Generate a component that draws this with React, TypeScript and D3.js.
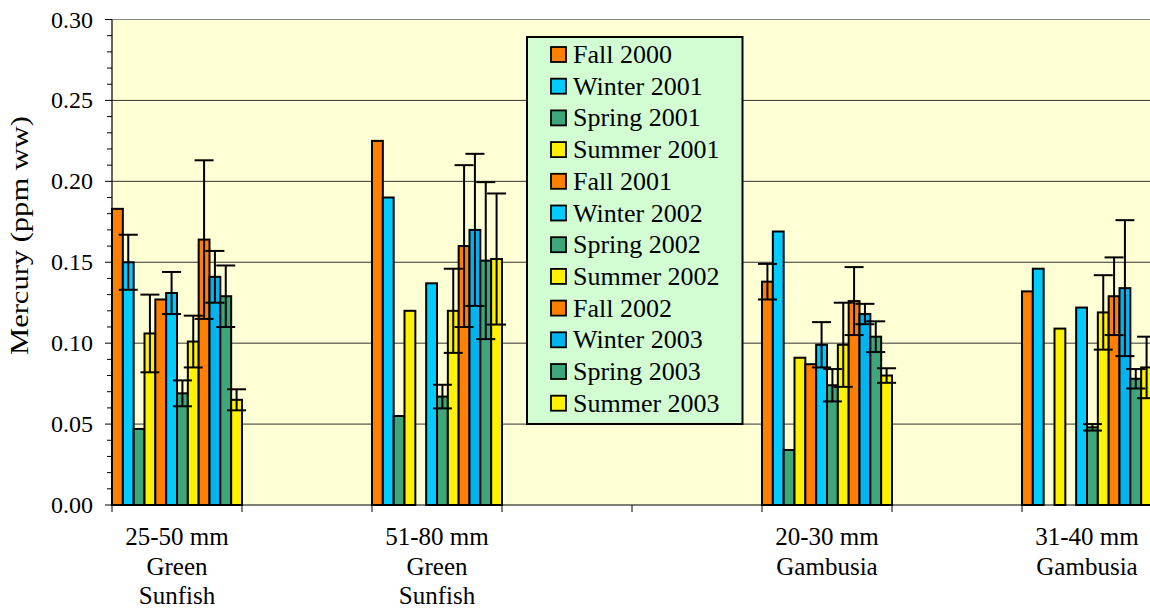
import React from "react";
import * as d3 from "d3";

// x slots (the chart has empty category slots between the groups)
const slotIds = ["s0", "s1", "s2", "s3", "s4", "s5", "s6", "s7"];
const categorySlots = ["s0", "s2", "s5", "s7"];
const categoryLabels = [
  ["25-50 mm", "Green", "Sunfish"],
  ["51-80 mm", "Green", "Sunfish"],
  ["20-30 mm", "Gambusia"],
  ["31-40 mm", "Gambusia"],
];

const seriesNames = [
  "Fall 2000", "Winter 2001", "Spring 2001", "Summer 2001",
  "Fall 2001", "Winter 2002", "Spring 2002", "Summer 2002",
  "Fall 2002", "Winter 2003", "Spring 2003", "Summer 2003",
];
const seriesColors = [
  "#FF8000", "#00CCFF", "#3FA67B", "#FFF200",
  "#FF8000", "#00CCFF", "#3FA67B", "#FFF200",
  "#FF8000", "#00B4F0", "#3FA67B", "#FFF200",
];

// values per series, for categories [25-50 GS, 51-80 GS, 20-30 Gamb, 31-40 Gamb]
const fall2000 = [0.183, 0.225, 0.138, 0.132];
const winter2001 = [0.150, 0.190, 0.169, 0.146];
const spring2001 = [0.047, 0.055, 0.034, null];
const summer2001 = [0.106, 0.120, 0.091, 0.109];
const fall2001 = [0.127, null, 0.087, null];
const winter2002 = [0.131, 0.137, 0.099, 0.122];
const spring2002 = [0.069, 0.067, 0.074, 0.048];
const summer2002 = [0.101, 0.120, 0.099, 0.119];
const fall2002 = [0.164, 0.160, 0.126, 0.129];
const winter2003 = [0.141, 0.170, 0.118, 0.134];
const spring2003 = [0.129, 0.151, 0.104, 0.078];
const summer2003 = [0.065, 0.152, 0.080, 0.085];

// error bar half-lengths (null = no error bar)
const errFall2000 = [null, null, 0.011, null];
const errWinter2001 = [0.017, null, null, null];
const errSpring2001 = [null, null, null, null];
const errSummer2001 = [0.024, null, null, null];
const errFall2001 = [null, null, null, null];
const errWinter2002 = [0.013, null, 0.014, null];
const errSpring2002 = [0.008, 0.0073, 0.010, 0.002];
const errSummer2002 = [0.016, 0.026, 0.026, 0.023];
const errFall2002 = [0.049, 0.050, 0.021, 0.024];
const errWinter2003 = [0.016, 0.047, 0.0063, 0.042];
const errSpring2003 = [0.019, 0.0485, 0.0095, 0.006];
const errSummer2003 = [0.0065, 0.0405, 0.0045, 0.019];

const yTicks = [0, 0.05, 0.1, 0.15, 0.2, 0.25, 0.3];

const seriesValues = [
  fall2000, winter2001, spring2001, summer2001, fall2001, winter2002,
  spring2002, summer2002, fall2002, winter2003, spring2003, summer2003,
];
const seriesErrors = [
  errFall2000, errWinter2001, errSpring2001, errSummer2001, errFall2001, errWinter2002,
  errSpring2002, errSummer2002, errFall2002, errWinter2003, errSpring2003, errSummer2003,
];

const W = 1150;
const H = 608;
const left = 112;
const right = 1152;
const top = 19.5;
const bottom = 505;
const serif = { fontFamily: "'Liberation Serif', 'Times New Roman', Times, serif" };

export default function App() {
  const x = d3.scaleBand().domain(slotIds).range([left, right]).padding(0);
  const xi = d3.scaleBand().domain(seriesNames).range([0, x.bandwidth()]).padding(0);
  const y = d3.scaleLinear().domain([0, 0.3]).range([bottom, top]);
  const minorTicks = d3.range(0, 31).map((i) => i / 100);
  const bw = xi.bandwidth();

  const bars: any[] = [];
  const errs: any[] = [];
  seriesNames.forEach((s, si) => {
    categorySlots.forEach((slot, ci) => {
      const v = seriesValues[si][ci];
      if (v == null) return;
      const bx = (x(slot) as number) + (xi(s) as number);
      bars.push(
        <rect key={`b-${si}-${ci}`} x={bx} y={y(v)} width={bw} height={y(0) - y(v)}
          fill={seriesColors[si]} stroke="#000" strokeWidth={2} />
      );
      const e = seriesErrors[si][ci];
      if (e != null) {
        const cx = bx + bw / 2;
        const y1 = y(v + e);
        const y2 = y(v - e);
        errs.push(
          <g key={`e-${si}-${ci}`} stroke="#000" strokeWidth={2}>
            <line x1={cx} x2={cx} y1={y1} y2={y2} />
            <line x1={cx - 9.5} x2={cx + 9.5} y1={y1} y2={y1} />
            <line x1={cx - 9.5} x2={cx + 9.5} y1={y2} y2={y2} />
          </g>
        );
      }
    });
  });

  const legendX = 527;
  const legendY = 37;
  const rowH = 31.7;

  return (
    <svg width={W} height={H} style={{ position: "absolute", left: 0, top: 0, background: "#fff" }}>
      <rect x={left} y={top} width={right - left} height={bottom - top} fill="#FFFFD6" />
      {yTicks.slice(1).map((t) => (
        <line key={`g-${t}`} x1={left} x2={right} y1={y(t)} y2={y(t)}
          stroke={t === 0.3 ? "#888" : "#333"} strokeWidth={1} />
      ))}
      {bars}
      {errs}
      {/* y axis */}
      <line x1={left} x2={left} y1={top} y2={bottom} stroke="#000" strokeWidth={1.2} />
      {minorTicks.map((t, i) => (
        <line key={`mt-${i}`} x1={left - (i % 5 === 0 ? 7 : 5)} x2={left} y1={y(t)} y2={y(t)}
          stroke="#000" strokeWidth={1} />
      ))}
      {yTicks.map((t) => (
        <text key={`yl-${t}`} x={93} y={y(t) + 8} textAnchor="end" fontSize={24} fill="#000" style={serif}>
          {d3.format(".2f")(t)}
        </text>
      ))}
      {/* x axis */}
      <line x1={left} x2={right} y1={bottom} y2={bottom} stroke="#000" strokeWidth={1.2} />
      {slotIds.map((s) => (
        <line key={`xt-${s}`} x1={x(s) as number} x2={x(s) as number} y1={bottom} y2={bottom + 7}
          stroke="#000" strokeWidth={1} />
      ))}
      {categorySlots.map((slot, ci) => (
        <text key={`xl-${ci}`} textAnchor="middle" fontSize={25} fill="#000" style={serif}>
          {categoryLabels[ci].map((ln, li) => (
            <tspan key={li} x={(x(slot) as number) + x.bandwidth() / 2} y={545 + li * 29.5}>{ln}</tspan>
          ))}
        </text>
      ))}
      <text transform={`translate(28,235.5) rotate(-90)`} textAnchor="middle" fontSize={25}
        textLength={239} lengthAdjust="spacingAndGlyphs" fill="#000" style={serif}>
        Mercury (ppm ww)
      </text>
      {/* legend */}
      <rect x={legendX} y={legendY} width={215.5} height={387} fill="#D2FCD2" stroke="#000" strokeWidth={2} />
      {seriesNames.map((s, i) => {
        const cy = 54.5 + i * rowH;
        return (
          <g key={`lg-${i}`}>
            <rect x={551} y={cy - 7.5} width={15} height={15} fill={seriesColors[i]} stroke="#000" strokeWidth={1.8} />
            <text x={573} y={cy + 8.5} fontSize={26} fill="#000" style={serif}>{s}</text>
          </g>
        );
      })}
    </svg>
  );
}
